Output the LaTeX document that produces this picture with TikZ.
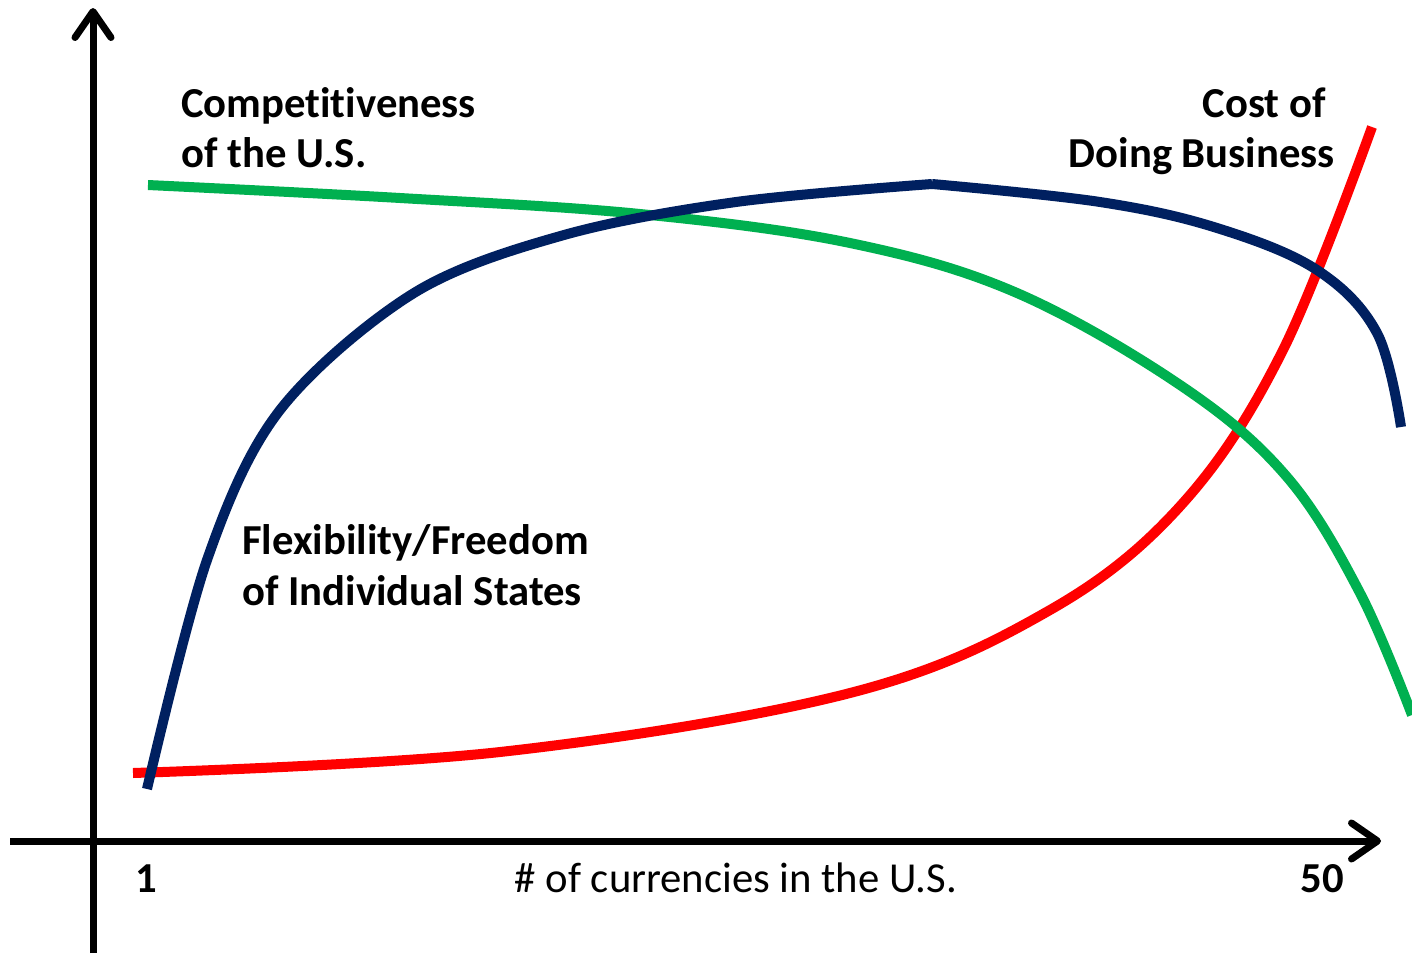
\documentclass[tikz,border=0pt]{standalone}
\usepackage{fontspec}
\setmainfont[Ligatures={NoCommon}]{Carlito}
\usetikzlibrary{arrows.meta}
\definecolor{navy}{HTML}{002060}
\definecolor{cred}{HTML}{FF0000}
\definecolor{cgreen}{HTML}{00B050}
\tikzset{
  axisline/.style={line width=7pt, -{Straight Barb[length=26pt,width=36pt,line cap=round,round]}},
  curveline/.style={line width=10pt, line cap=butt},
  lbl/.style={font=\fontsize{42.7}{50}\selectfont\bfseries, inner sep=0pt},
  xlbl/.style={font=\fontsize{42.7}{50}\selectfont, inner sep=0pt},
}
\begin{document}
\begin{tikzpicture}[x=1pt,y=-1pt]
\useasboundingbox (0,0) rectangle (1412,953);
% axes
\coordinate (ybot) at (93,953);
\coordinate (ytop) at (93,8);
\coordinate (xleft) at (10,841);
\coordinate (xright) at (1381,841);
\draw[axisline] (ybot) -- (ytop);
\draw[axisline] (xleft) -- (xright);
% curves
\draw[curveline, cred] plot[smooth, tension=0.6] coordinates {(133,773) (500,752) (850,693) (1050,610) (1183,503) (1283,350) (1372,127)};
\draw[curveline, cgreen] plot[smooth, tension=0.6] coordinates {(148,185) (400,198) (640,214) (850,243) (1017,293) (1183,387) (1287,477) (1360,593) (1412,715)};
\draw[curveline, navy] plot[smooth, tension=0.55] coordinates {(147,789) (207,560) (280,410) (414,293) (564,235) (736,202) (932,184)};
\draw[curveline, navy] plot[smooth, tension=0.6] coordinates {(932,184) (1100,202) (1217,228) (1317,270) (1377,333) (1401,427)};
% labels
\node[lbl, anchor=base west] (c1) at (181,117) {Competitiveness};
\node[lbl, anchor=base west] (c2) at (181,167) {of the U.S.};
\node[lbl, anchor=base east] (d1) at (1326,117) {Cost of};
\node[lbl, anchor=base east] (d2) at (1335,167) {Doing Business};
\node[lbl, anchor=base west] (f1) at (242,554) {Flexibility/Freedom};
\node[lbl, anchor=base west] (f2) at (242,605) {of Individual States};
\node[lbl, anchor=base] (one) at (146,892) {1};
\node[lbl, anchor=base] (fifty) at (1322,892) {50};
\node[xlbl, anchor=base] (xl) at (736,892) {\# of currencies in the U.S.};
\end{tikzpicture}
\end{document}
